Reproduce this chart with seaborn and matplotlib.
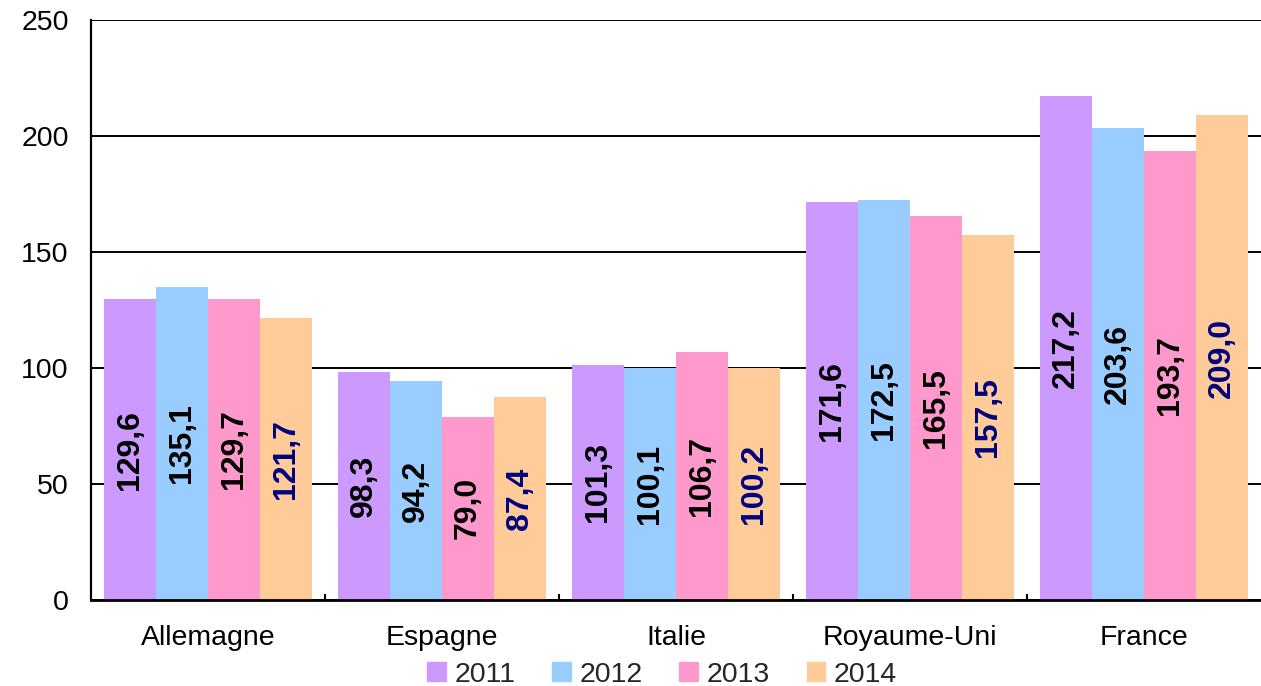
import pandas as pd
import seaborn as sns
import matplotlib.pyplot as plt
from matplotlib.ticker import FixedLocator

sns.set_theme(style="white")
plt.rcParams['font.family'] = ['Liberation Sans', 'DejaVu Sans']

pays = ['Allemagne', 'Espagne', 'Italie', 'Royaume-Uni', 'France']
annees = ['2011', '2012', '2013', '2014']
v2011 = [129.6, 98.3, 101.3, 171.6, 217.2]
v2012 = [135.1, 94.2, 100.1, 172.5, 203.6]
v2013 = [129.7, 79.0, 106.7, 165.5, 193.7]
v2014 = [121.7, 87.4, 100.2, 157.5, 209.0]
couleurs = ['#CC99FF', '#99CCFF', '#FF99CC', '#FFCC99']
couleurs_texte = ['black', 'black', 'black', '#000080']

# long format for seaborn
rows = []
for an, vals in zip(annees, [v2011, v2012, v2013, v2014]):
    for p, v in zip(pays, vals):
        rows.append({'Pays': p, 'Annee': an, 'Valeur': v})
df = pd.DataFrame(rows)

fig = plt.figure(figsize=(12.61, 6.86), dpi=100)
ax = fig.add_axes([0.0722, 0.1254, 0.9278, 0.8454])

sns.barplot(data=df, x='Pays', y='Valeur', hue='Annee', order=pays, hue_order=annees,
            palette=couleurs, width=0.889, gap=0, saturation=1, linewidth=0, ax=ax,
            legend=False)

for cont, col in zip(ax.containers, couleurs_texte):
    labels = [f"{b.get_height():.1f}".replace('.', ',') for b in cont]
    ax.bar_label(cont, labels=labels, label_type='center', rotation=90,
                 fontsize=23, fontweight='bold', color=col)

ax.set_ylim(0, 250)
ax.set_xlim(-0.5, 4.5)
ax.set_yticks([0, 50, 100, 150, 200, 250])
ax.yaxis.grid(True, color='black', linewidth=1.4)
ax.set_axisbelow(True)
ax.set_xlabel('')
ax.set_ylabel('')

for s in ['top', 'right']:
    ax.spines[s].set_visible(False)
ax.spines['left'].set_color('black')
ax.spines['left'].set_linewidth(1.6)
ax.spines['bottom'].set_color('black')
ax.spines['bottom'].set_linewidth(2)

ax.tick_params(axis='y', length=0, pad=16, labelsize=20.5, colors='black')
ax.tick_params(axis='x', which='major', length=0, pad=18, labelsize=20.5, colors='black')
ax.xaxis.set_minor_locator(FixedLocator([0.5, 1.5, 2.5, 3.5]))
ax.tick_params(axis='x', which='minor', direction='in', length=4, width=1.5,
               color='black', bottom=True)

handles = [plt.Rectangle((0, 0), 1, 1, color=c) for c in couleurs]
fig.legend(handles, annees, loc='lower center', bbox_to_anchor=(0.525, -0.04),
           ncol=4, frameon=False, fontsize=20.5, handlelength=0.65, handleheight=0.65,
           handletextpad=0.3, columnspacing=1.3)

fig.savefig('out.png', dpi=100)
